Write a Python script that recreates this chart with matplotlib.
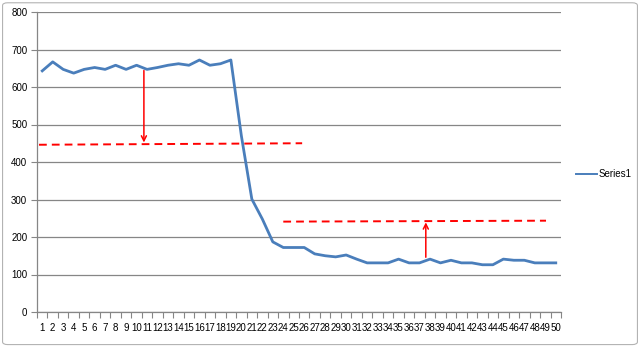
import numpy as np
import matplotlib.pyplot as plt
from matplotlib.patches import FancyBboxPatch

# values
categories = list(range(1, 51))
series1 = [643, 667, 647, 637, 647, 652, 647, 658, 647, 658,
           647, 652, 658, 662, 658, 672, 658, 662, 672, 470,
           301, 248, 187, 172, 172, 172, 155, 150, 147, 152,
           141, 131, 131, 131, 141, 131, 131, 141, 131, 138,
           131, 131, 126, 126, 141, 138, 138, 131, 131, 131]

# red dashed reference lines: (x_start, y_start, x_end, y_end) in category units
level_high = (0.69, 446, 25.8, 450)
level_low = (24.0, 241, 49.07, 243.5)
# red arrows: (x, y_from, y_to)
arrow_down = (10.7, 644, 452)
arrow_up = (37.6, 146, 239)

plt.rcParams['font.family'] = ['Liberation Sans', 'DejaVu Sans']

fig = plt.figure(figsize=(6.4, 3.47), dpi=100)
fig.patches.append(FancyBboxPatch((0.004, 0.007), 0.992, 0.985, boxstyle='round,pad=0,rounding_size=0.008',
                                  transform=fig.transFigure, facecolor='white', edgecolor='#b3b3b3',
                                  lw=0.8, zorder=-10))
ax = fig.add_axes([37 / 640, 1 - 312 / 347, (561 - 37) / 640, 300 / 347])
ax.set_facecolor('none')

ax.plot(categories, series1, color='#4a7ebb', lw=2.0, label='Series1', zorder=3,
        solid_joinstyle='round')

ax.plot([level_high[0], level_high[2]], [level_high[1], level_high[3]],
        color='#ff0000', lw=1.4, dashes=(4, 2.6), zorder=4)
ax.plot([level_low[0], level_low[2]], [level_low[1], level_low[3]],
        color='#ff0000', lw=1.4, dashes=(4, 2.6), zorder=4)

for x, y0, y1 in (arrow_down, arrow_up):
    ax.annotate('', xy=(x, y1), xytext=(x, y0),
                arrowprops=dict(arrowstyle='->', color='#ff0000', lw=1.1,
                                mutation_scale=9, shrinkA=0, shrinkB=0), zorder=5)

ax.set_xlim(0.5, 50.5)
ax.set_ylim(0, 800)
ax.set_yticks(np.arange(0, 801, 100))
ax.set_xticks(categories)
ax.set_xticklabels([str(c) for c in categories])
ax.set_xticks(np.arange(0.5, 51, 1), minor=True)
ax.tick_params(axis='x', which='major', length=0, pad=8, labelsize=7, colors='#000000')
ax.tick_params(axis='x', which='minor', length=4, width=0.8, color='#868686')
ax.tick_params(axis='y', length=4, width=0.8, color='#868686', labelsize=7, pad=3)

ax.grid(axis='y', color='#868686', lw=0.9)
ax.set_axisbelow(True)
for side in ('top', 'right'):
    ax.spines[side].set_visible(False)
for side in ('left', 'bottom'):
    ax.spines[side].set_color('#868686')
    ax.spines[side].set_linewidth(0.9)

leg = ax.legend(loc='center left', bbox_to_anchor=(567 / 640, 1 - 174 / 347),
                bbox_transform=fig.transFigure, frameon=False, fontsize=7,
                handlelength=2.2, handletextpad=0.1)
leg.get_lines()[0].set_linewidth(1.4)

fig.savefig('out.png', dpi=100)
